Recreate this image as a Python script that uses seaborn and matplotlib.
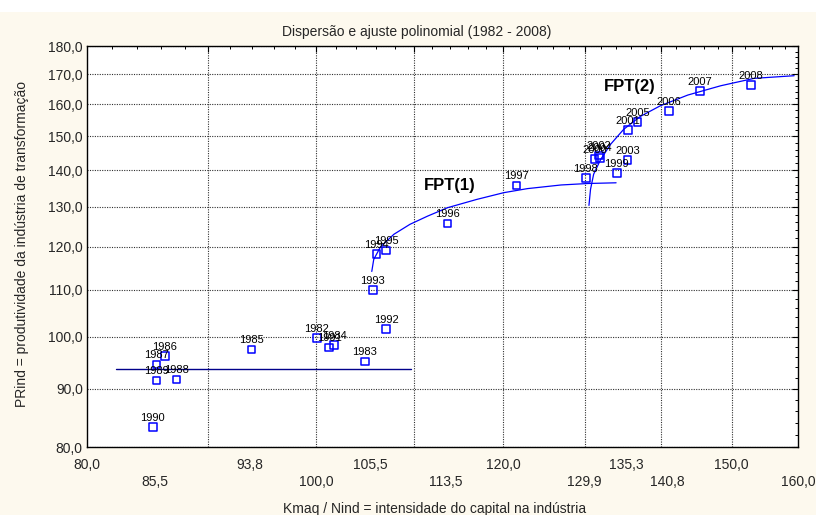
import numpy as np
import pandas as pd
import matplotlib
matplotlib.use("Agg")
import matplotlib.pyplot as plt
import seaborn as sns
from matplotlib.ticker import FixedLocator, FixedFormatter, NullLocator, NullFormatter
from matplotlib.patches import Rectangle

# ---------------- data ----------------
years = [1982, 1983, 1984, 1985, 1986, 1987, 1988, 1989, 1990, 1991,
         1992, 1993, 1994, 1995, 1996, 1997, 1998, 1999, 2000, 2001,
         2002, 2003, 2004, 2005, 2006, 2007, 2008]
kmaq = [100.1, 104.9, 101.8, 93.9, 86.3, 85.6, 87.3, 85.6, 85.3, 101.3,
        107.1, 105.7, 106.1, 107.1, 113.7, 121.6, 130.1, 134.1, 131.2, 135.6,
        131.8, 135.5, 131.9, 136.8, 141.1, 145.4, 152.8]
prind = [99.7, 95.1, 98.3, 97.4, 96.2, 94.5, 91.7, 91.5, 83.3, 97.8,
         101.5, 109.9, 118.2, 119.0, 125.7, 135.8, 137.8, 139.3, 143.3, 151.8,
         144.2, 142.9, 143.6, 154.4, 157.8, 164.4, 166.4]

# fitted curves
fpt1_kmaq = [105.6, 105.8, 106.5, 107.9, 109.6, 111.5, 113.7, 117.0, 120.1, 122.9, 127.0, 130.3, 134.0]
fpt1_prind = [114.1, 116.9, 119.9, 123.0, 125.5, 127.6, 129.8, 132.0, 133.8, 134.9, 135.9, 136.3, 136.5]
fpt2_kmaq = [130.5, 130.7, 131.1, 132.0, 133.3, 135.0, 137.2, 139.9, 143.7, 148.4, 153.3, 159.4]
fpt2_prind = [130.4, 134.7, 138.9, 143.1, 147.6, 152.1, 156.1, 159.5, 163.0, 166.1, 168.6, 169.5]
base_kmaq = [82.3, 109.7]
base_prind = [93.6, 93.6]

fit_labels = ["FPT(1)", "FPT(2)"]
fit_label_kmaq = [113.9, 135.8]
fit_label_prind = [135.8, 165.9]

x_labels_row1 = [80.0, 93.8, 105.5, 120.0, 135.3, 150.0]
x_labels_row2 = [85.5, 100.0, 113.5, 129.9, 140.8, 160.0]
x_grid = [90, 100, 110, 120, 130, 140, 150]
y_ticks = [80, 90, 100, 110, 120, 130, 140, 150, 160, 170, 180]

title = "Dispersão e ajuste polinomial (1982 - 2008)"
xlabel = "Kmaq / Nind = intensidade do capital na indústria"
ylabel = "PRind = produtividade da indústria de transformação"


def fmt(v):
    return f"{v:.1f}".replace(".", ",")


# ---------------- style ----------------
sns.set_style("white")
plt.rcParams["font.family"] = ["Liberation Sans", "DejaVu Sans"]

BLUE = "#0000FF"
W, H = 816, 515
fig = plt.figure(figsize=(W / 100, H / 100), dpi=100, facecolor="#FDF9EE")
fig.patches.append(Rectangle((0, 1 - 12 / H), 1, 12 / H, transform=fig.transFigure,
                             facecolor="white", edgecolor="none", zorder=0))

ax = fig.add_axes([87 / W, 68 / H, 711 / W, 401 / H])
ax.set_facecolor("white")
ax.set_xscale("log")
ax.set_yscale("log")

df = pd.DataFrame({"ano": years, "kmaq": kmaq, "prind": prind})

sns.lineplot(x=base_kmaq, y=base_prind, sort=False, estimator=None, color="#00008B",
             lw=1.0, ax=ax, zorder=2)
sns.lineplot(x=fpt1_kmaq, y=fpt1_prind, sort=False, estimator=None, color=BLUE,
             lw=0.9, ax=ax, zorder=2)
sns.lineplot(x=fpt2_kmaq, y=fpt2_prind, sort=False, estimator=None, color=BLUE,
             lw=0.9, ax=ax, zorder=2)
sns.scatterplot(data=df, x="kmaq", y="prind", marker="s", s=30, color=BLUE,
                facecolor="none", edgecolor=BLUE, linewidth=1.1, ax=ax, zorder=3)

for yr, xv, yv in zip(df["ano"], df["kmaq"], df["prind"]):
    ax.annotate(str(yr), (xv, yv), xytext=(0, 4.5), textcoords="offset points",
                ha="center", va="baseline", fontsize=8, color="black", zorder=4)

for lab, xv, yv in zip(fit_labels, fit_label_kmaq, fit_label_prind):
    ax.text(xv, yv, lab, fontsize=12, fontweight="bold", ha="center", va="center",
            color="black", zorder=4)

ax.set_xlim(80, 160)
ax.set_ylim(80, 180)
ax.set_xlabel("")
ax.set_ylabel("")

# x axis: gridlines at tens, minor ticks every 2, labels on two staggered rows
ax.xaxis.set_major_locator(FixedLocator(x_grid))
ax.xaxis.set_major_formatter(NullFormatter())
ax.xaxis.set_minor_locator(FixedLocator([v for v in np.arange(82, 160, 2) if v % 10 != 0]))
ax.xaxis.set_minor_formatter(NullFormatter())

ax.yaxis.set_major_locator(FixedLocator(y_ticks))
ax.yaxis.set_major_formatter(FixedFormatter([fmt(v) for v in y_ticks]))
ax.yaxis.set_minor_locator(FixedLocator([v for v in np.arange(82, 180, 2) if v % 10 != 0]))
ax.yaxis.set_minor_formatter(NullFormatter())

ax.tick_params(which="both", direction="in", top=True, right=True, color="black")
ax.tick_params(which="major", length=4, width=0.8)
ax.tick_params(which="minor", length=2.5, width=0.7)
ax.tick_params(axis="y", which="major", labelsize=10, pad=3)

ax.grid(which="major", linestyle=(0, (1, 1.2)), color="#303030", linewidth=0.8)
ax.set_axisbelow(True)
for sp in ax.spines.values():
    sp.set_visible(True)
    sp.set_color("black")
    sp.set_linewidth(1.0)

for vals, pad in [(x_labels_row1, 7.6), (x_labels_row2, 20.5)]:
    sec = ax.secondary_xaxis("bottom")
    sec.set_ticks(vals, labels=[fmt(v) for v in vals])
    sec.xaxis.set_minor_locator(NullLocator())
    sec.tick_params(axis="x", which="both", length=0, pad=pad, labelsize=10)
    sec.spines["bottom"].set_visible(False)

fig.text(417 / W, 1 - 32 / H, title, ha="center", va="center", fontsize=10)
fig.text(435 / W, 2 / H, xlabel, ha="center", va="baseline", fontsize=10)
fig.text(22 / W, 1 - 244 / H, ylabel, ha="center", va="center", rotation=90, fontsize=10)

fig.savefig("out.png", dpi=100, facecolor=fig.get_facecolor())
